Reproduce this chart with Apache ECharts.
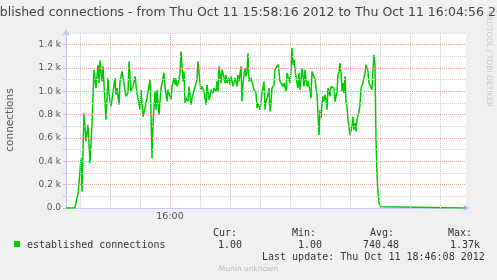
<!DOCTYPE html>
<html><head><meta charset="utf-8">
<script src="https://cdn.jsdelivr.net/npm/echarts@6/dist/echarts.min.js"></script>
<style>html,body{margin:0;padding:0;background:#f0f0f0}#c{width:497px;height:280px}</style>
</head><body><div id="c"></div>
<script>
// time in seconds since 15:58:00
const times = [16,25,28,29,31,32,33,34,36,38,40,42,44,46,48,49,50,52,53,55,56,58,59,61,63,65,66,67,69,70,72,74,76,78,79,81,83,85,
87,88,90,91,93,95,97,98,100,101,102,103,105,106,107,109,111,112,114,115,117,118,120,121,122,124,125,126,127,129,130,131,133,134,135,136,138,139,141,142,144,146,147,148,150,151,152,
154,155,156,157,159,160,161,163,164,166,167,168,169,171,172,173,175,176,177,179,180,181,183,184,185,187,188,189,191,192,193,195,196,197,198,199,201,202,203,204,206,207,208,210,211,212,214,215,216,218,219,220,221,
222,224,225,227,228,229,230,231,233,234,235,236,237,239,240,241,242,243,244,245,247,248,249,250,251,252,253,254,255,256,257,258,259,260,261,262,264,265,266,267,268,269,270,271,272,273,274,275,276,277,278,279,280,281,283,284,285,287,288,289,290,
291,292,293,294,295,296,297,298,299,300,301,302,303,304,305,306,307,308,309,310,311,312,313,314,315,316,317,318,319,321,322,323,324,325,326,327,328,329,331,333,416];
const connections = [1,1,126,212,427,140,498,813,570,713,384,727,1185,1028,1228,1071,1265,1085,1214,1200,756,1114,971,870,885,1114,971,1028,885,1085,1171,1171,956,985,1257,1000,1042,1128,
985,971,842,1013,784,856,942,956,1100,813,427,727,1000,842,1013,799,1028,1071,1157,1042,913,1013,1028,928,1042,1114,1057,1114,1042,1100,1157,1343,1085,1171,899,942,913,1042,885,942,928,1071,1100,1257,1071,1013,1042,
1000,942,885,1057,928,956,1013,985,1028,1000,1085,1000,1214,1071,1185,1157,1071,1142,1071,1114,1057,1128,1042,1028,1114,1042,1142,1085,1214,913,1071,1200,1128,1157,1328,1085,1114,1100,1114,1013,985,856,899,842,913,985,1085,842,913,970,1028,827,900,
1028,1057,1185,1200,1228,1171,1085,1071,1042,1071,1085,1000,1157,1100,1071,1185,1371,1228,1271,1185,1071,1028,1157,1013,1100,1200,1128,1042,1185,1100,1042,1085,1042,1013,942,1171,1157,1100,1114,970,799,627,842,770,899,956,913,970,928,842,1028,1000,956,1042,1057,1028,913,1000,1142,1171,1243,
1157,1000,1071,985,1128,913,870,756,770,627,613,699,784,670,727,656,756,770,827,885,1028,1042,1071,1085,1157,1228,1243,1171,1071,1057,1013,1185,1314,1214,584,298,126,40,11,1,1];
const yTicks = [0,200,400,600,800,1000,1200,1400];
const yTickLabels = ['0.0','0.2 k','0.4 k','0.6 k','0.8 k','1.0 k','1.2 k','1.4 k'];
const yMinorGrid = [100,300,500,700,900,1100,1300,1500];
const xGridTimes = [30,60,90,120,150,180,210,240,270,300,330,360,390];
const xMajorTime = 120;
const xTickLabel = '16:00';
const titleText = 'established connections - from Thu Oct 11 15:58:16 2012 to Thu Oct 11 16:04:56 2012';
const seriesName = 'established connections';
const statHeads = ['Cur:','Min:','Avg:','Max:'];
const statValues = ['1.00','1.00','740.48','1.37k'];
const lastUpdate = 'Last update: Thu Oct 11 18:46:08 2012';

const chart = echarts.init(document.getElementById('c'), null, {renderer:'canvas'});
const data = times.map((t,i)=>[t, connections[i]]);
const FONT = 'DejaVu Sans';
const statX = [213,292,370,448];
const valX = [218,298,363,450];
const RED = '#e8a8a8', GREY = '#d0d0d0';
const graphics = [
  {type:'text', left:-27, top:6, style:{text:titleText, font:'12.5px "DejaVu Sans"', fill:'#444'}},
  {type:'text', x:489, y:59, rotation:-Math.PI/2, style:{text:'RRDTOOL / TOBI OETIKER', font:'7.5px "DejaVu Sans"', fill:'#c8c8c8', align:'center', verticalAlign:'middle'}},
  {type:'text', x:10, y:120, rotation:Math.PI/2, style:{text:'connections', font:'10.5px "DejaVu Sans"', fill:'#555', align:'center', verticalAlign:'middle'}},
  {type:'rect', shape:{x:14,y:241,width:6,height:6}, style:{fill:'#00cc00'}},
  {type:'text', x:27, y:245, style:{text:seriesName, font:'10px "DejaVu Sans Mono"', fill:'#333', verticalAlign:'middle'}},
  {type:'text', x:262, y:257, style:{text:lastUpdate, font:'10px "DejaVu Sans Mono"', fill:'#333', verticalAlign:'middle'}},
  {type:'text', x:248.5, y:269, style:{text:'Munin unknown', font:'7.5px "DejaVu Sans"', fill:'#bbb', align:'center', verticalAlign:'middle'}}
];
statHeads.forEach((h,i)=>graphics.push({type:'text', x:statX[i], y:233, style:{text:h, font:'10px "DejaVu Sans Mono"', fill:'#333', verticalAlign:'middle'}}));
statValues.forEach((v,i)=>graphics.push({type:'text', x:valX[i], y:245, style:{text:v, font:'10px "DejaVu Sans Mono"', fill:'#333', verticalAlign:'middle'}}));

const dot = [1,1];
const gridLines = []
  .concat(xGridTimes.map(t=>({xAxis:t, lineStyle:{color: t===xMajorTime?RED:GREY, type:dot, width:1}})))
  .concat(yMinorGrid.map(v=>({yAxis:v, lineStyle:{color:GREY, type:dot, width:1}})))
  .concat(yTicks.filter(v=>v>0).map(v=>({yAxis:v, lineStyle:{color:RED, type:dot, width:1}})));

chart.setOption({
  animation:false,
  backgroundColor:'#f0f0f0',
  grid:{left:66, right:31, top:33, bottom:72, show:true, backgroundColor:'#ffffff', borderWidth:0},
  xAxis:{type:'value', min:16, max:416,
    axisLine:{show:true, lineStyle:{color:'#c8c8ff', width:1}, symbol:['none','arrow'], symbolSize:[6,7], symbolOffset:[0,4]},
    axisTick:{show:false}, splitLine:{show:false},
    axisLabel:{customValues:[xMajorTime], formatter:()=>xTickLabel, color:'#555', fontFamily:FONT, fontSize:9.5, margin:4}
  },
  yAxis:{type:'value', min:0, max:1500, interval:100,
    axisLine:{show:true, lineStyle:{color:'#c8c8ff', width:1}, symbol:['none','arrow'], symbolSize:[6,7], symbolOffset:[0,4]},
    axisTick:{show:true, length:3, lineStyle:{color:'#c8c8c8'}},
    splitLine:{show:false},
    axisLabel:{color:'#555', fontFamily:FONT, fontSize:9, margin:5, showMaxLabel:false,
      formatter:v=>{const i=yTicks.indexOf(v); return i>=0?yTickLabels[i]:'';}}
  },
  graphic:graphics,
  series:[
    {type:'line', name:'grid', data:[[16,0]], showSymbol:false, silent:true, z:1, lineStyle:{width:0},
      markLine:{silent:true, symbol:['none','none'], label:{show:false}, data:gridLines}},
    {type:'line', name:seriesName, data:data, showSymbol:false, z:3, lineStyle:{color:'#00cc00', width:1.5}}
  ]
});
</script></body></html>
